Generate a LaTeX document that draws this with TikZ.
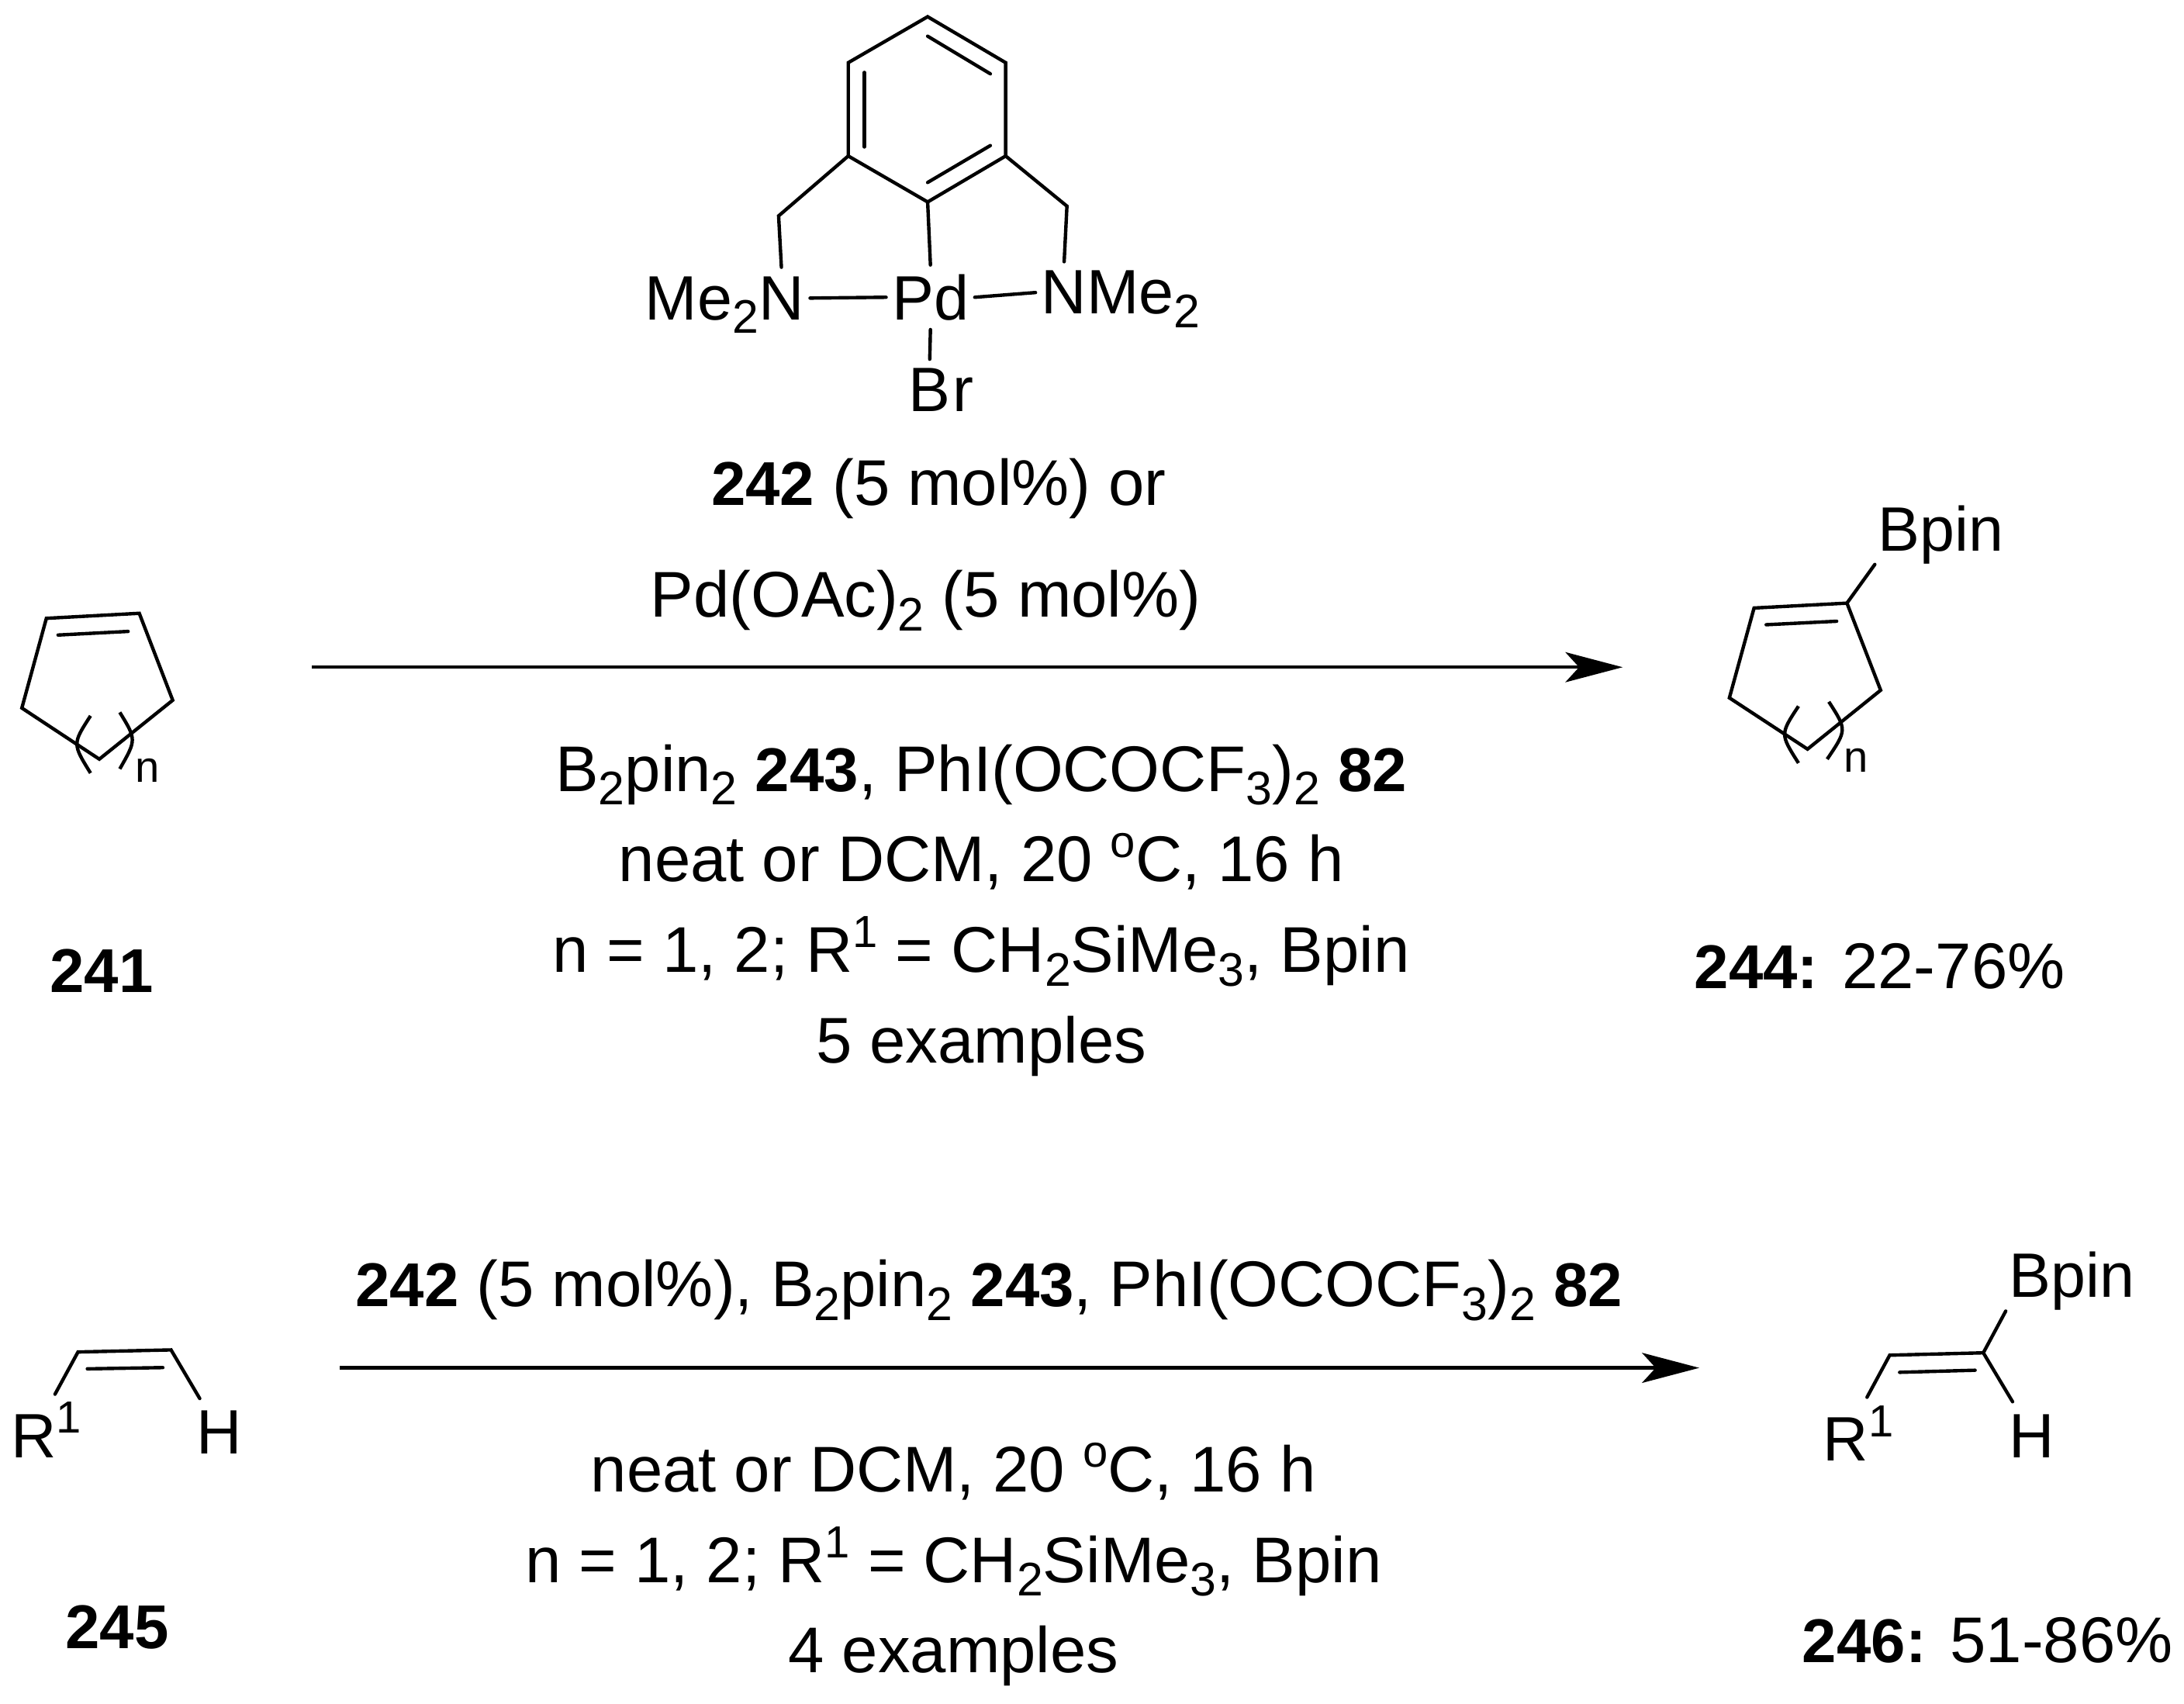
\documentclass[tikz,border=0pt]{standalone}
\usepackage{fontspec}
\setmainfont{Liberation Sans}
\usetikzlibrary{arrows.meta,positioning}
\newcommand{\sbs}[1]{\raisebox{-5pt}{\fontsize{17.3}{18}\selectfont #1}}
\newcommand{\sps}[1]{\raisebox{9pt}{\fontsize{16.5}{18}\selectfont #1}}
\newcommand{\bnum}[1]{{\fontsize{22.7}{26}\selectfont\bfseries #1}}
\tikzset{
  bond/.style={line width=1.25pt,line cap=round,line join=miter},
  rxn/.style={line width=1.25pt,-{Stealth[length=21pt,width=11pt,inset=5pt]}},
  lab/.style={anchor=base,inner sep=0pt,font=\fontsize{23.7}{28}\selectfont},
  atm/.style={anchor=base,inner sep=0pt,font=\fontsize{23}{26}\selectfont},
  atom/.style={atm,inner xsep=2pt,inner ysep=3.2pt},
  idx/.style={anchor=base west,inner sep=0pt,font=\fontsize{16}{18}\selectfont}
}
\begin{document}
\begin{tikzpicture}[x=0.017959cm,y=-0.017956cm]
  \useasboundingbox (0,0) rectangle (1568,1223);

  % Catalyst ring
  \coordinate (c1) at (666,12);
  \coordinate (c2) at (722,45);
  \coordinate (c3) at (722,112);
  \coordinate (c4) at (666,145);
  \coordinate (c5) at (609,112);
  \coordinate (c6) at (609,45);
  \draw[bond] (c1) -- (c2) -- (c3) -- (c4) -- (c5) -- (c6) -- cycle;
  \draw[bond] (666,26) -- (711,53);
  \draw[bond] (711,104.5) -- (666,131);
  \draw[bond] (620.6,52) -- (620.6,105.5);

  % Catalyst atoms
  \coordinate (cl) at (559,155);
  \coordinate (cr) at (766,148);
  \node[atom] (pd) at (668,229.5) {Pd};
  \node[atom] (nl) at (561,229.5) {N};
  \node[atm,anchor=base east] (mel) at (545,229.5) {Me\sbs{2}};
  \node[atom] (nr) at (764,225.5) {N};
  \node[atm,anchor=base west] (mer) at (780,225.5) {Me\sbs{2}};
  \node[atom] (bb) at (667.5,295.5) {B};
  \node[atm,anchor=base west] (br) at (683.5,295.5) {r};
  \draw[bond] (c5) -- (cl) -- (nl.north);
  \draw[bond] (c3) -- (cr) -- (nr.north);
  \draw[bond] (c4) -- (pd.north);
  \draw[bond] (nl.east) -- (pd.west);
  \draw[bond] (pd.east) -- (nr.west);
  \draw[bond] (pd.south) -- (bb.north);

  % Substrate 241
  \coordinate (a1) at (33.3,443.9);
  \coordinate (a2) at (100,440.3);
  \coordinate (a3) at (124,502.7);
  \coordinate (a4) at (71.3,545);
  \coordinate (a5) at (15.7,508.3);
  \draw[bond] (a1) -- (a2) -- (a3) -- (a4) -- (a5) -- cycle;
  \draw[bond] (41.7,455.9) -- (92,453.3);
  \draw[bond,line cap=butt] (65,513.9) .. controls (52,534) .. (65,555);
  \draw[bond,line cap=butt] (86,511.4) .. controls (98,531) .. (86,552);
  \node[idx] (n241) at (97,561.5) {n};

  % Product 244
  \coordinate (b1) at (1259.3,436.5);
  \coordinate (b2) at (1326,433);
  \coordinate (b3) at (1350.2,495.5);
  \coordinate (b4) at (1297.7,537.8);
  \coordinate (b5) at (1241.6,501);
  \node[atom,anchor=base west,inner xsep=1pt,inner ysep=0pt] (bp1) at (1346,395.5) {Bpin};
  \draw[bond] (b1) -- (b2) -- (b3) -- (b4) -- (b5) -- cycle;
  \draw[bond] (1268,448.5) -- (1318.6,446);
  \draw[bond] (b2) -- (bp1.south west);
  \draw[bond,line cap=butt] (1291.2,507) .. controls (1278,527) .. (1291.2,547.8);
  \draw[bond,line cap=butt] (1313,503.8) .. controls (1326,524) .. (1311.8,545);
  \node[idx] (n244) at (1323.6,554.5) {n};

  % Substrate 245
  \coordinate (d1) at (56,970.6);
  \coordinate (d2) at (122.8,969.1);
  \coordinate (d3) at (39.5,1000.9);
  \coordinate (d4) at (143.4,1004);
  \node[atm,anchor=base west] (r245) at (7.5,1046.5) {R\sps{1}};
  \node[atm,anchor=base west] (h245) at (140.5,1044) {H};
  \draw[bond] (d3) -- (d1) -- (d2) -- (d4);
  \draw[bond] (62.7,982.7) -- (116.9,981.8);

  % Product 246
  \coordinate (e1) at (1356.7,972.9);
  \coordinate (e2) at (1423.9,971.2);
  \coordinate (e3) at (1340.4,1003.1);
  \coordinate (e4) at (1444.9,1006.3);
  \node[atm,anchor=base west] (r246) at (1308.5,1049) {R\sps{1}};
  \node[atm,anchor=base west] (h246) at (1442,1046.5) {H};
  \node[atom,anchor=base west,inner xsep=1pt,inner ysep=0pt] (bp2) at (1440,931.5) {Bpin};
  \draw[bond] (e3) -- (e1) -- (e2) -- (e4);
  \draw[bond] (e2) -- (bp2.south west);
  \draw[bond] (1363.8,985.2) -- (1418,983.7);

  % Arrows
  \coordinate (s1) at (224,479);
  \coordinate (t1) at (1165,479);
  \coordinate (s2) at (244,982);
  \coordinate (t2) at (1220,982);
  \draw[rxn] (s1) -- (t1);
  \draw[rxn] (s2) -- (t2);

  % Top conditions
  \node[lab] (cat1) at (674,363) {\bnum{242} (5 mol\%) or};
  \node[lab] (cat2) at (664.5,443) {Pd(OAc)\sbs{2} (5 mol\%)};
  \node[lab] (cond1) at (704.5,568) {B\sbs{2}pin\sbs{2} \bnum{243}, PhI(OCOCF\sbs{3})\sbs{2} \bnum{82}};
  \node[lab] (cond2) at (704.5,633) {neat or DCM, 20 \sps{o}C, 16 h};
  \node[lab] (cond3) at (704.5,698) {n = 1, 2; R\sps{1} = CH\sbs{2}SiMe\sbs{3}, Bpin};
  \node[lab] (cond4) at (704.5,763) {5 examples};

  % Bottom conditions
  \node[lab] (cat3) at (710,938) {\bnum{242} (5 mol\%), B\sbs{2}pin\sbs{2} \bnum{243}, PhI(OCOCF\sbs{3})\sbs{2} \bnum{82}};
  \node[lab] (cond5) at (684.5,1071) {neat or DCM, 20 \sps{o}C, 16 h};
  \node[lab] (cond6) at (684.5,1136) {n = 1, 2; R\sps{1} = CH\sbs{2}SiMe\sbs{3}, Bpin};
  \node[lab] (cond7) at (684.5,1201) {4 examples};

  % Compound numbers
  \node[lab] (l241) at (73,712.5) {\bnum{241}};
  \node[lab] (l244) at (1349.5,709.5) {\bnum{244:} 22-76\%};
  \node[lab] (l245) at (84,1183.5) {\bnum{245}};
  \node[lab] (l246) at (1427,1193.5) {\bnum{246:} 51-86\%};
\end{tikzpicture}
\end{document}
